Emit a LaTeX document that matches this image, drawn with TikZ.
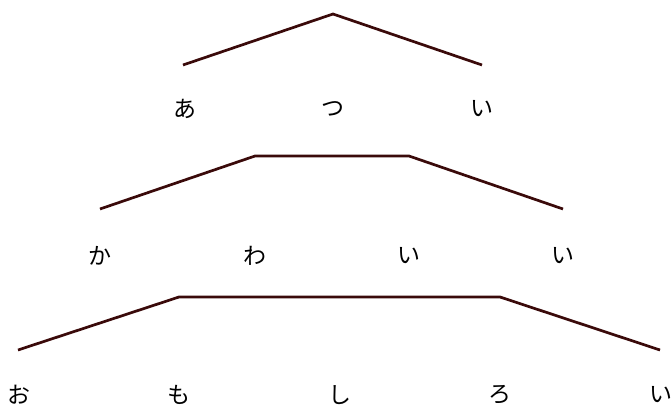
\documentclass[tikz,border=0pt]{standalone}
\usepackage{fontspec}
\newfontfamily\jpfont{Noto Sans CJK JP}
\usetikzlibrary{positioning}
\definecolor{pitchline}{HTML}{3A0A0A}

\begin{document}
\begin{tikzpicture}[x=1pt, y=-1pt,
    kana/.style={font=\jpfont\fontsize{23}{23}\selectfont, inner sep=0pt},
    pitch/.style={draw=pitchline, line width=2.7pt, line join=miter}]
  \useasboundingbox (0,0) rectangle (672,407);

  % あつい
  \node[kana] (a1) at (185,109) {あ};
  \node[kana] (a2) at (333,109) {つ};
  \node[kana] (a3) at (482,109) {い};
  \coordinate (p1) at (183,65);
  \coordinate (p2) at (333,14);
  \coordinate (p3) at (482,65);
  \draw[pitch] (p1) -- (p2) -- (p3);

  % かわいい
  \node[kana] (b1) at (100,256) {か};
  \node[kana] (b2) at (255,256) {わ};
  \node[kana] (b3) at (409,256) {い};
  \node[kana] (b4) at (563,256) {い};
  \coordinate (q1) at (100,209);
  \coordinate (q2) at (255,156);
  \coordinate (q3) at (409,156);
  \coordinate (q4) at (563,209);
  \draw[pitch] (q1) -- (q2) -- (q3) -- (q4);

  % おもしろい
  \node[kana] (c1) at (19,395) {お};
  \node[kana] (c2) at (179,395) {も};
  \node[kana] (c3) at (340,395) {し};
  \node[kana] (c4) at (500,395) {ろ};
  \node[kana] (c5) at (661,395) {い};
  \coordinate (r1) at (18,350);
  \coordinate (r2) at (179,297);
  \coordinate (r3) at (500,297);
  \coordinate (r4) at (660,350);
  \draw[pitch] (r1) -- (r2) -- (r3) -- (r4);
\end{tikzpicture}
\end{document}
